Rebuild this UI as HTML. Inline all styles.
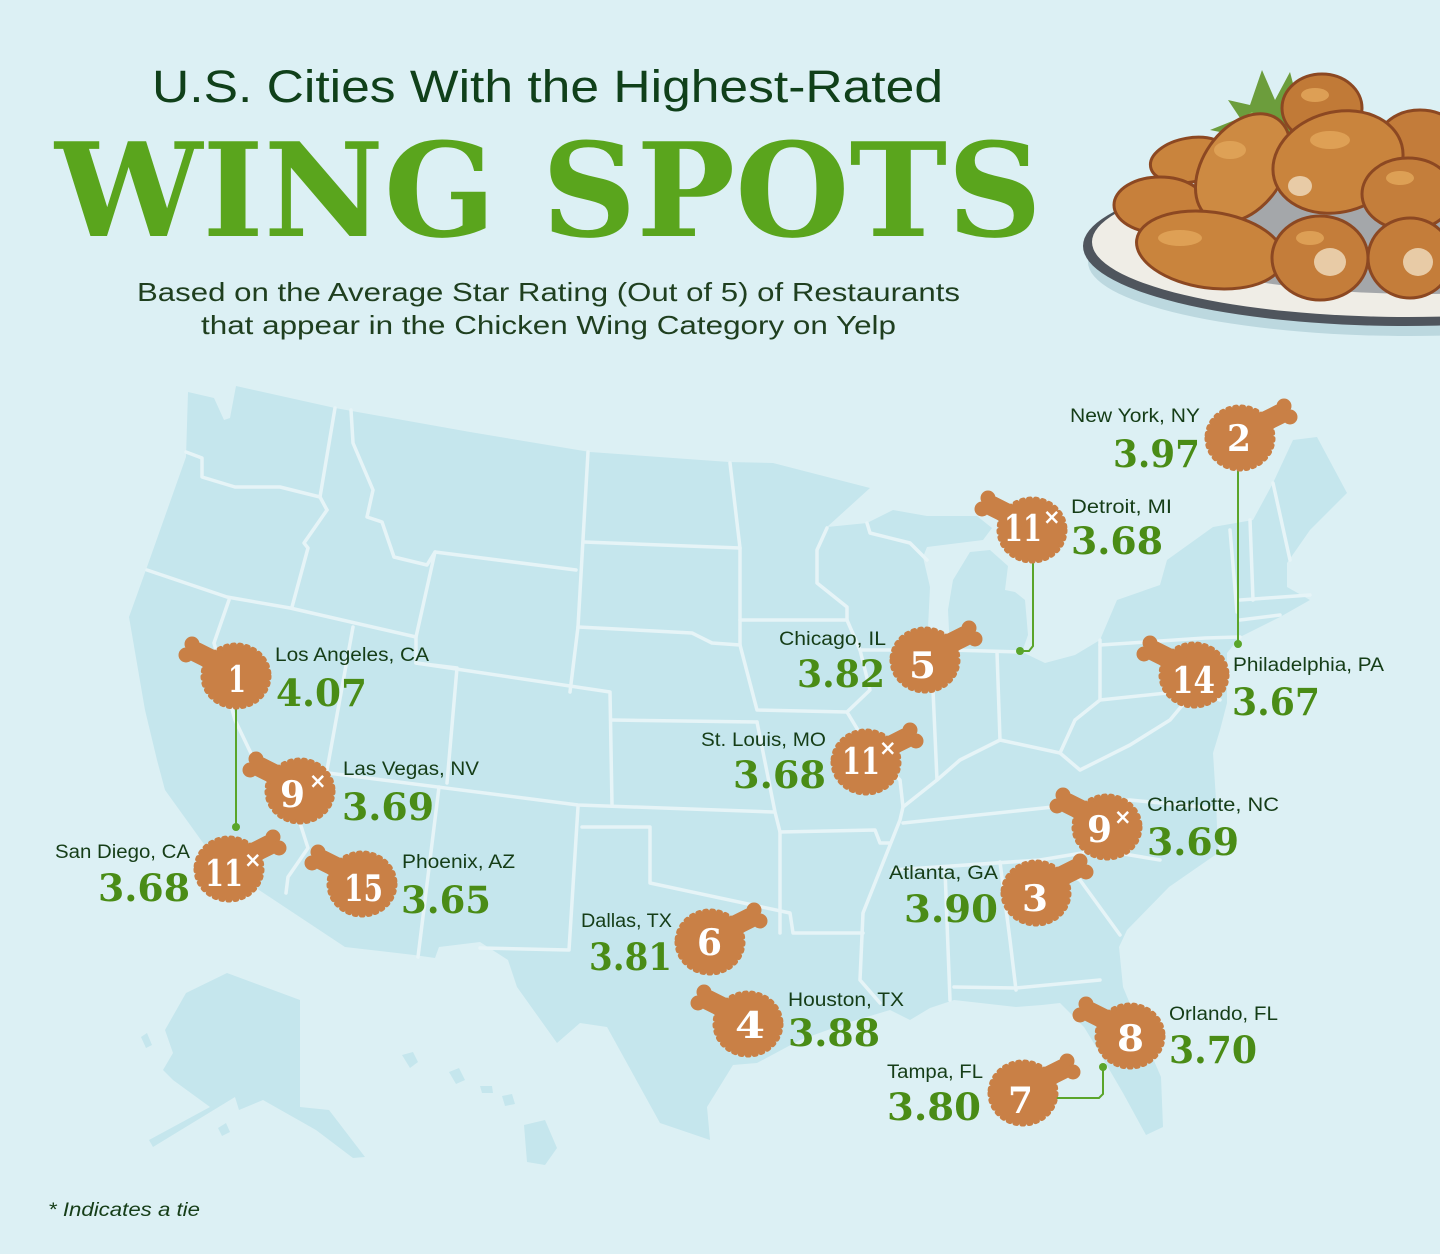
<!DOCTYPE html>
<html>
<head>
<meta charset="utf-8">
<style>
  html,body{margin:0;padding:0;background:#dcf0f4;}
  svg{display:block;}
  .lbl{font-family:"Liberation Sans",sans-serif;font-size:19px;fill:#153d17;}
  .val{font-family:"DejaVu Serif","Liberation Serif",serif;font-weight:bold;font-size:37px;fill:#4a8c16;}
  .num{font-family:"DejaVu Serif","Liberation Serif",serif;font-weight:bold;font-size:36px;fill:#ffffff;}
  .tie{font-family:"DejaVu Sans","Liberation Sans",sans-serif;font-weight:bold;font-size:21px;fill:#ffffff;}
</style>
</head>
<body>
<svg width="1440" height="1254" viewBox="0 0 1440 1254" xmlns="http://www.w3.org/2000/svg">
  <defs>
    <g id="ds" fill="#c98046">
      <ellipse cx="0" cy="0" rx="33" ry="31"/>
      <ellipse cx="0" cy="0" rx="33" ry="31" fill="none" stroke="#c98046" stroke-width="5" stroke-dasharray="2 5" stroke-linecap="round"/>
      <path d="M-28,-24 Q-36,-30 -42,-30 L-48,-18 Q-40,-16 -30,-6 Z"/>
      <line x1="-40" y1="-24" x2="-16" y2="-12" stroke="#c98046" stroke-width="20" stroke-linecap="round"/>
      <circle cx="-44" cy="-32" r="7.5"/>
      <circle cx="-50" cy="-21" r="7.5"/>
    </g>
  </defs>

  <rect x="0" y="0" width="1440" height="1254" fill="#dcf0f4"/>

  <!-- ===== MAP ===== -->
  <g fill="#c5e6ed">
    <path d="M188,392 L214,398 L224,420 L230,418 L236,386 L335,408 L470,432 L590,452 L729,462 L773,463 L870,488
      L827,527 L867,523 L893,510 L927,516 L977,516 L992,528 L983,540 L927,547 L923,557 L930,587 L927,648
      L950,650 L948,610 L953,580 L970,552 L990,550 L1008,566 L1005,590 L1015,592 L1025,600 L1028,635 L1022,652
      L1045,663 L1075,655 L1100,640 L1117,600 L1160,585 L1167,560 L1213,527 L1253,520 L1273,483 L1293,440 L1317,437
      L1347,493 L1310,530 L1287,563 L1287,587 L1310,600 L1280,617 L1240,637 L1227,653 L1227,703 L1220,730
      L1213,753 L1216,800 L1218,853 L1169,887 L1127,930 L1119,947 L1123,987 L1145,1040 L1161,1077 L1163,1127
      L1146,1135 L1123,1093 L1095,1045 L1084,1027 L1077,1020 L1060,1003 L1042,1005 L1016,1007 L954,1000
      L930,1008 L910,1020 L890,1010 L850,1022 L800,1040 L757,1063 L733,1065 L707,1107 L710,1140 L660,1123
      L607,1027 L580,1023 L557,1043 L517,987 L508,960 L480,942 L439,947 L435,958 L414,955 L345,947 L259,890 L206,847
      L165,790 L157,760 L145,710 L129,617 L147,567 L186,457 Z"/>
    <!-- Alaska -->
    <path d="M227,973 L300,1000 L300,1107 L329,1110 L365,1157 L353,1158 L316,1130 L263,1100 L239,1110 L235,1097
      L153,1147 L149,1140 L210,1107 L173,1080 L163,1070 L173,1053 L165,1030 L186,993 Z"/>
    <path d="M141,1037 L147,1033 L152,1045 L146,1048 Z"/>
    <path d="M218,1128 L226,1123 L230,1132 L222,1136 Z"/>
    <!-- Hawaii -->
    <path d="M402,1055 L413,1052 L418,1062 L410,1068 Z"/>
    <path d="M449,1072 L459,1068 L465,1080 L456,1084 Z"/>
    <path d="M480,1086 L492,1086 L493,1093 L482,1093 Z"/>
    <path d="M502,1096 L512,1094 L515,1104 L505,1106 Z"/>
    <path d="M524,1125 L545,1120 L557,1148 L545,1165 L527,1162 Z"/>
  </g>

  <!-- state lines -->
  <g fill="none" stroke="#e6f4f7" stroke-width="3.5" stroke-linejoin="round" stroke-linecap="round">
    <polyline points="186,452 202,458 202,477 235,487 280,487 320,497 327,510"/>
    <polyline points="335,408 320,497"/>
    <polyline points="351,410 353,443 373,490 367,517 382,522 394,557 427,565 435,552 576,570"/>
    <polyline points="327,510 304,543 308,548 292,607"/>
    <polyline points="147,570 227,597 290,608 416,637"/>
    <polyline points="229,600 214,643 235,720 259,770 300,823 308,848 288,877 286,893"/>
    <polyline points="353,627 327,770 300,823"/>
    <polyline points="328,773 578,805 773,812"/>
    <polyline points="439,787 418,957"/>
    <polyline points="578,807 569,950 480,948"/>
    <polyline points="582,827 650,827 650,883 790,913 793,933 863,933"/>
    <polyline points="435,552 416,637 416,663 457,668 447,783"/>
    <polyline points="416,663 610,692 612,805"/>
    <polyline points="612,720 757,722"/>
    <polyline points="588,452 578,627 570,692"/>
    <polyline points="584,542 740,548"/>
    <polyline points="578,627 692,633 712,643 740,645 757,710 847,712"/>
    <polyline points="730,463 740,548 740,645"/>
    <polyline points="740,620 847,620 847,607 817,583 817,550 827,528"/>
    <polyline points="847,620 860,650 870,690 847,712 870,750 900,780 903,807 900,820 863,913 860,980 880,1003"/>
    <polyline points="860,650 925,650"/>
    <polyline points="757,722 775,812 780,832 875,830 880,843 890,843"/>
    <polyline points="780,832 780,933"/>
    <polyline points="867,523 870,533 910,543 927,560"/>
    <polyline points="933,650 933,690 937,780 903,807"/>
    <polyline points="950,650 1022,652"/>
    <polyline points="997,652 1000,740"/>
    <polyline points="937,780 960,760 1000,740 1060,753 1080,770 1130,745 1170,720 1195,690"/>
    <polyline points="903,823 1053,807 1130,800 1213,808"/>
    <polyline points="893,870 1040,860 1100,850 1160,860"/>
    <polyline points="945,870 950,1000"/>
    <polyline points="1000,862 1010,940 1016,990"/>
    <polyline points="954,987 1016,988 1100,980"/>
    <polyline points="1040,860 1080,880 1120,935"/>
    <polyline points="1100,640 1100,700 1195,690 1220,700"/>
    <polyline points="1100,645 1205,638 1240,637"/>
    <polyline points="1250,520 1253,600"/>
    <polyline points="1273,483 1290,560"/>
    <polyline points="1240,600 1310,595"/>
    <polyline points="1240,620 1280,615"/>
    <polyline points="1230,530 1237,612"/>
    <polyline points="1060,753 1075,720 1100,700"/>
  </g>

  <!-- ===== PLATE OF WINGS ===== -->
  <g>
    <ellipse cx="1410" cy="262" rx="322" ry="74" fill="#bcd8df"/>
    <ellipse cx="1405" cy="246" rx="322" ry="80" fill="#4f555d"/>
    <ellipse cx="1408" cy="242" rx="316" ry="75" fill="#efede6"/>
    <ellipse cx="1425" cy="238" rx="268" ry="56" fill="#a4a7aa"/>
    <!-- leaves -->
    <path d="M1210,130 L1240,118 L1228,100 L1250,105 L1262,70 L1275,100 L1290,72 L1300,110 L1308,135 L1260,140 Z" fill="#6c9d3c"/>
    <path d="M1225,128 L1252,112 L1265,125 Z" fill="#8cbf5a"/>
    <g stroke="#8c4822" stroke-width="3">
      <ellipse cx="1322" cy="108" rx="40" ry="34" fill="#c17a37"/>
      <ellipse cx="1420" cy="142" rx="42" ry="32" fill="#c37c3a"/>
      <ellipse cx="1190" cy="160" rx="40" ry="22" fill="#c9843d" transform="rotate(-10 1190 160)"/>
      <ellipse cx="1160" cy="205" rx="46" ry="28" fill="#c7803b"/>
      <ellipse cx="1243" cy="168" rx="40" ry="60" fill="#cd8a42" transform="rotate(35 1243 168)"/>
      <ellipse cx="1338" cy="162" rx="66" ry="50" fill="#c9843d" transform="rotate(-15 1338 162)"/>
      <ellipse cx="1408" cy="194" rx="46" ry="36" fill="#c47e3b"/>
      <ellipse cx="1210" cy="250" rx="74" ry="38" fill="#c9843d" transform="rotate(8 1210 250)"/>
      <ellipse cx="1320" cy="258" rx="48" ry="42" fill="#c47d3a"/>
      <ellipse cx="1410" cy="258" rx="42" ry="40" fill="#c47d3a"/>
    </g>
    <g fill="#e2a65a" opacity="0.85">
      <ellipse cx="1230" cy="150" rx="16" ry="9"/>
      <ellipse cx="1330" cy="140" rx="20" ry="9"/>
      <ellipse cx="1180" cy="238" rx="22" ry="8"/>
      <ellipse cx="1310" cy="238" rx="14" ry="7"/>
      <ellipse cx="1400" cy="178" rx="14" ry="7"/>
      <ellipse cx="1315" cy="95" rx="14" ry="7"/>
    </g>
    <g fill="#e8cba6">
      <ellipse cx="1330" cy="262" rx="16" ry="14"/>
      <ellipse cx="1418" cy="262" rx="15" ry="14"/>
      <ellipse cx="1300" cy="186" rx="12" ry="10"/>
    </g>
  </g>

  <!-- ===== TITLES ===== -->
  <text x="152" y="102" textLength="791" lengthAdjust="spacingAndGlyphs" font-family="Liberation Sans, sans-serif" font-size="45" fill="#10401a">U.S. Cities With the Highest-Rated</text>
  <text x="55" y="236" textLength="987" lengthAdjust="spacingAndGlyphs" font-family="DejaVu Serif, Liberation Serif, serif" font-weight="bold" font-size="130" fill="#5aa51d">WING SPOTS</text>
  <text x="137" y="301" textLength="823" lengthAdjust="spacingAndGlyphs" font-family="Liberation Sans, sans-serif" font-size="26" fill="#1f3f1f">Based on the Average Star Rating (Out of 5) of Restaurants</text>
  <text x="201" y="334" textLength="695" lengthAdjust="spacingAndGlyphs" font-family="Liberation Sans, sans-serif" font-size="26" fill="#1f3f1f">that appear in the Chicken Wing Category on Yelp</text>

  <!-- ===== CONNECTORS ===== -->
  <g stroke="#5aa52a" stroke-width="2" fill="none">
    <polyline points="236,705 236,827"/>
    <polyline points="1238,466 1238,644"/>
    <polyline points="1033,558 1033,646 1029,651 1021,651"/>
    <polyline points="1054,1098 1099,1098 1103,1094 1103,1068"/>
  </g>
  <g fill="#5aa52a">
    <circle cx="236" cy="827" r="4"/>
    <circle cx="1238" cy="644" r="4"/>
    <circle cx="1020" cy="651" r="4"/>
    <circle cx="1103" cy="1067" r="4"/>
  </g>

  <!-- ===== BADGES ===== -->
  <use href="#ds" transform="translate(236,676)"/>
  <use href="#ds" transform="translate(1240,438) scale(-1,1)"/>
  <use href="#ds" transform="translate(1032,530)"/>
  <use href="#ds" transform="translate(925,660) scale(-1,1)"/>
  <use href="#ds" transform="translate(1194,675)"/>
  <use href="#ds" transform="translate(866,762) scale(-1,1)"/>
  <use href="#ds" transform="translate(300,791)"/>
  <use href="#ds" transform="translate(229,869) scale(-1,1)"/>
  <use href="#ds" transform="translate(362,884)"/>
  <use href="#ds" transform="translate(710,942) scale(-1,1)"/>
  <use href="#ds" transform="translate(748,1024)"/>
  <use href="#ds" transform="translate(1036,893) scale(-1,1)"/>
  <use href="#ds" transform="translate(1107,827)"/>
  <use href="#ds" transform="translate(1130,1036)"/>
  <use href="#ds" transform="translate(1023,1093) scale(-1,1)"/>

  <!-- badge numbers -->
  <text class="num" x="228" y="692" textLength="18" lengthAdjust="spacingAndGlyphs">1</text>
  <text class="num" x="1227" y="451" textLength="24" lengthAdjust="spacingAndGlyphs">2</text>
  <text class="num" x="1022" y="911" textLength="26" lengthAdjust="spacingAndGlyphs">3</text>
  <text class="num" x="735" y="1038" textLength="30" lengthAdjust="spacingAndGlyphs">4</text>
  <text class="num" x="909" y="678" textLength="27" lengthAdjust="spacingAndGlyphs">5</text>
  <text class="num" x="697" y="955" textLength="25" lengthAdjust="spacingAndGlyphs">6</text>
  <text class="num" x="1008" y="1113" textLength="25" lengthAdjust="spacingAndGlyphs">7</text>
  <text class="num" x="1117" y="1051" textLength="27" lengthAdjust="spacingAndGlyphs">8</text>
  <text class="num" x="1172" y="693" textLength="43" lengthAdjust="spacingAndGlyphs">14</text>
  <text class="num" x="344" y="901" textLength="39" lengthAdjust="spacingAndGlyphs">15</text>
  <text class="num" x="280" y="807" textLength="25" lengthAdjust="spacingAndGlyphs">9</text>
  <text class="tie" x="309" y="788">×</text>
  <text class="num" x="1087" y="842" textLength="25" lengthAdjust="spacingAndGlyphs">9</text>
  <text class="tie" x="1114" y="824">×</text>
  <text class="num" x="205" y="886" textLength="38" lengthAdjust="spacingAndGlyphs">11</text>
  <text class="tie" x="244" y="867">×</text>
  <text class="num" x="1004" y="541" textLength="38" lengthAdjust="spacingAndGlyphs">11</text>
  <text class="tie" x="1043" y="524">×</text>
  <text class="num" x="842" y="774" textLength="38" lengthAdjust="spacingAndGlyphs">11</text>
  <text class="tie" x="879" y="755">×</text>

  <!-- ===== CITY LABELS ===== -->
  <text class="lbl" x="1070" y="422" textLength="130" lengthAdjust="spacingAndGlyphs">New York, NY</text>
  <text class="val" x="1113" y="467" textLength="87" lengthAdjust="spacingAndGlyphs">3.97</text>

  <text class="lbl" x="1071" y="513" textLength="101" lengthAdjust="spacingAndGlyphs">Detroit, MI</text>
  <text class="val" x="1071" y="554" textLength="92" lengthAdjust="spacingAndGlyphs">3.68</text>

  <text class="lbl" x="275" y="661" textLength="154" lengthAdjust="spacingAndGlyphs">Los Angeles, CA</text>
  <text class="val" x="276" y="706" textLength="91" lengthAdjust="spacingAndGlyphs">4.07</text>

  <text class="lbl" x="779" y="645" textLength="107" lengthAdjust="spacingAndGlyphs">Chicago, IL</text>
  <text class="val" x="797" y="687" textLength="88" lengthAdjust="spacingAndGlyphs">3.82</text>

  <text class="lbl" x="1233" y="671" textLength="151" lengthAdjust="spacingAndGlyphs">Philadelphia, PA</text>
  <text class="val" x="1232" y="715" textLength="88" lengthAdjust="spacingAndGlyphs">3.67</text>

  <text class="lbl" x="701" y="746" textLength="125" lengthAdjust="spacingAndGlyphs">St. Louis, MO</text>
  <text class="val" x="733" y="788" textLength="93" lengthAdjust="spacingAndGlyphs">3.68</text>

  <text class="lbl" x="343" y="775" textLength="136" lengthAdjust="spacingAndGlyphs">Las Vegas, NV</text>
  <text class="val" x="342" y="820" textLength="92" lengthAdjust="spacingAndGlyphs">3.69</text>

  <text class="lbl" x="1147" y="811" textLength="132" lengthAdjust="spacingAndGlyphs">Charlotte, NC</text>
  <text class="val" x="1147" y="855" textLength="92" lengthAdjust="spacingAndGlyphs">3.69</text>

  <text class="lbl" x="55" y="858" textLength="135" lengthAdjust="spacingAndGlyphs">San Diego, CA</text>
  <text class="val" x="98" y="901" textLength="92" lengthAdjust="spacingAndGlyphs">3.68</text>

  <text class="lbl" x="402" y="868" textLength="113" lengthAdjust="spacingAndGlyphs">Phoenix, AZ</text>
  <text class="val" x="401" y="913" textLength="90" lengthAdjust="spacingAndGlyphs">3.65</text>

  <text class="lbl" x="889" y="879" textLength="109" lengthAdjust="spacingAndGlyphs">Atlanta, GA</text>
  <text class="val" x="904" y="922" textLength="94" lengthAdjust="spacingAndGlyphs">3.90</text>

  <text class="lbl" x="581" y="927" textLength="91" lengthAdjust="spacingAndGlyphs">Dallas, TX</text>
  <text class="val" x="589" y="970" textLength="83" lengthAdjust="spacingAndGlyphs">3.81</text>

  <text class="lbl" x="788" y="1006" textLength="116" lengthAdjust="spacingAndGlyphs">Houston, TX</text>
  <text class="val" x="788" y="1046" textLength="92" lengthAdjust="spacingAndGlyphs">3.88</text>

  <text class="lbl" x="1169" y="1020" textLength="109" lengthAdjust="spacingAndGlyphs">Orlando, FL</text>
  <text class="val" x="1169" y="1063" textLength="88" lengthAdjust="spacingAndGlyphs">3.70</text>

  <text class="lbl" x="887" y="1078" textLength="96" lengthAdjust="spacingAndGlyphs">Tampa, FL</text>
  <text class="val" x="887" y="1120" textLength="94" lengthAdjust="spacingAndGlyphs">3.80</text>

  <!-- footnote -->
  <text x="48" y="1216" textLength="152" lengthAdjust="spacingAndGlyphs" font-family="Liberation Sans, sans-serif" font-style="italic" font-size="19" fill="#153d17">* Indicates a tie</text>
</svg>
</body>
</html>
